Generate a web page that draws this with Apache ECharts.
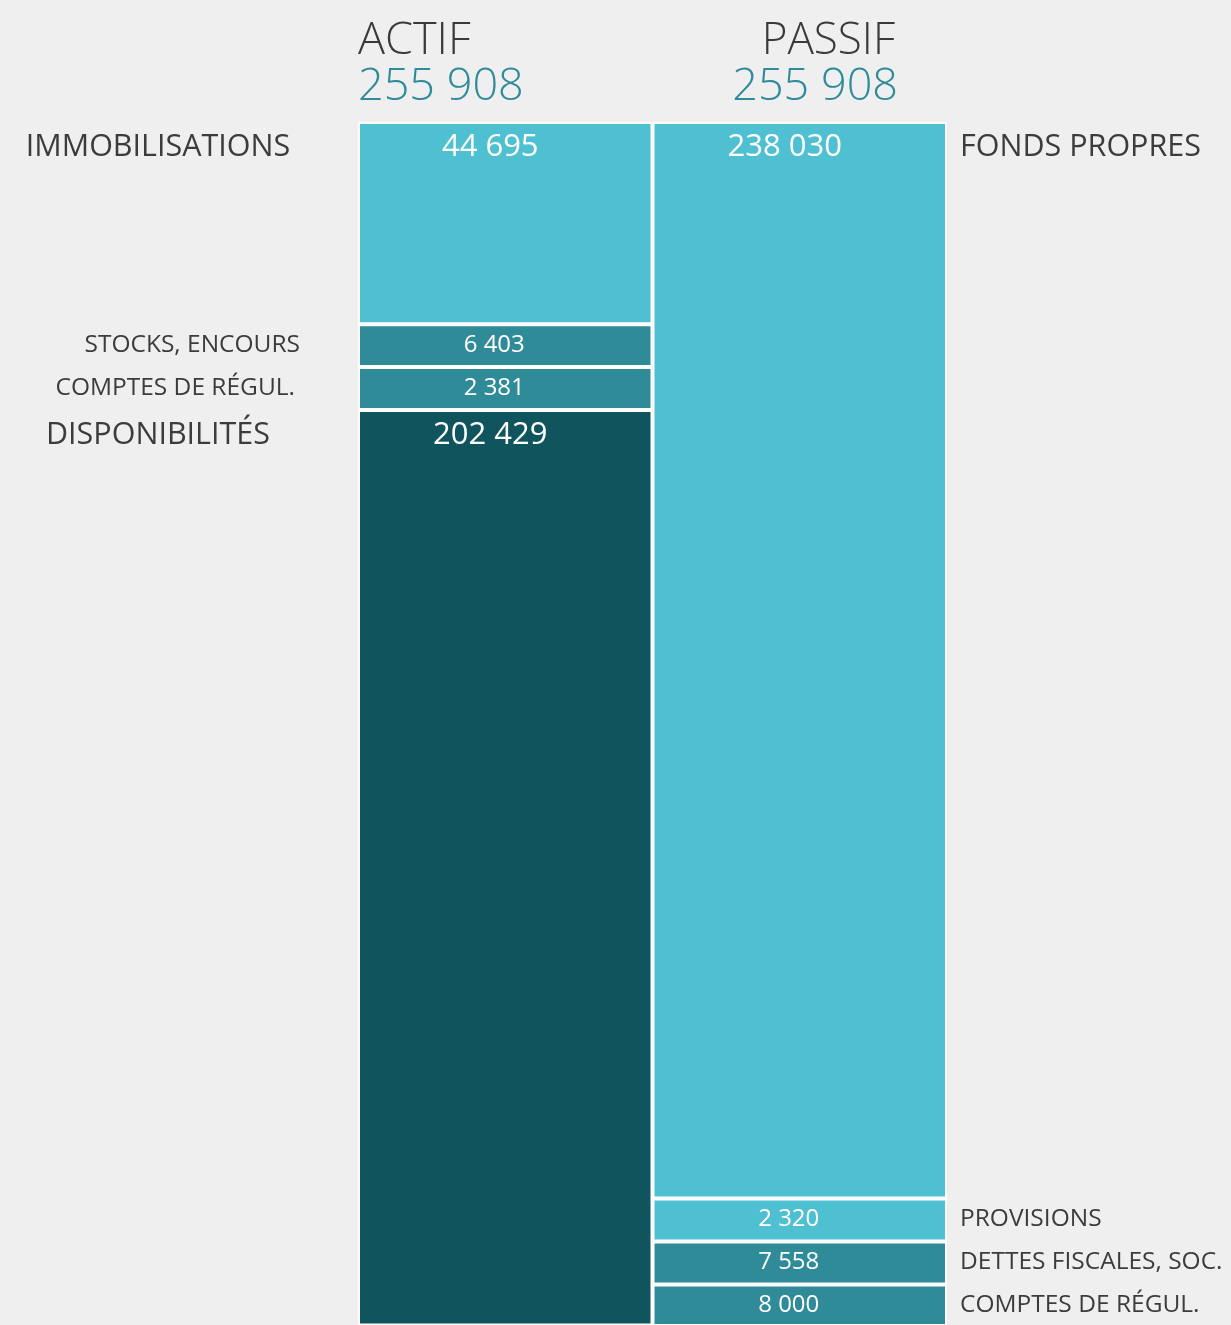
<!DOCTYPE html>
<html>
<head>
<meta charset="utf-8">
<title>Bilan</title>
<script src="https://cdn.jsdelivr.net/npm/echarts@6/dist/echarts.min.js"></script>
<style>
  html, body { margin: 0; padding: 0; background: #efefef; }
  #bilan { width: 1231px; height: 1325px; }
</style>
</head>
<body>
<div id="bilan"></div>
<script>
// colonnes
var columns = ['ACTIF', 'PASSIF'];

// postes de l'actif (haut -> bas)
var actifNames = ['IMMOBILISATIONS', 'STOCKS, ENCOURS', 'COMPTES DE RÉGUL.', 'DISPONIBILITÉS'];
var actifValues = [44695, 6403, 2381, 202429];

// postes du passif (haut -> bas)
var passifNames = ['FONDS PROPRES', 'PROVISIONS', 'DETTES FISCALES, SOC.', 'COMPTES DE RÉGUL.'];
var passifValues = [238030, 2320, 7558, 8000];

// hauteur minimale d'un bloc (les petits postes sont agrandis pour rester lisibles)
var MIN_SEG = 9500;

var light = '#4fc0d2', mid = '#308b99', dark = '#10555d';
var actifColors = [light, mid, mid, dark];
var passifColors = [light, light, mid, mid];

// placement des libellés de gauche
var leftAnchor = [
  { x: 158, align: 'center' },
  { x: 300, align: 'right' },
  { x: 295, align: 'right' },
  { x: 158, align: 'center' }
];

function fmt(v) {
  return String(v).replace(/\B(?=(\d{3})+(?!\d))/g, ' ');
}
function sum(a) {
  var s = 0;
  for (var i = 0; i < a.length; i++) s += a[i];
  return s;
}
function shown(v) {
  return Math.max(v, MIN_SEG);
}

var font = "'Open Sans', 'Noto Sans', sans-serif";

var series = [];
for (let i = 0; i < actifValues.length; i++) {
  let vals = [actifValues[i], passifValues[i]];
  let cols = [actifColors[i], passifColors[i]];
  let data = [];
  for (let j = 0; j < vals.length; j++) {
    let small = vals[j] < MIN_SEG;
    data.push({
      value: shown(vals[j]),
      itemStyle: { color: cols[j] },
      label: {
        fontSize: small ? 24 : 31,
        distance: small ? 9 : 10,
        offset: small ? [-11, 0] : [-15, 0]
      }
    });
  }
  series.push({
    name: 'poste' + i,
    type: 'bar',
    stack: 'bilan',
    barCategoryGap: '0%',
    data: data,
    itemStyle: { borderColor: '#ffffff', borderWidth: 2 },
    label: {
      show: true,
      position: 'insideTop',
      color: '#ffffff',
      fontFamily: font,
      formatter: function (p) {
        return fmt(p.dataIndex === 0 ? actifValues[i] : passifValues[i]);
      }
    },
    silent: true,
    animation: false
  });
}

var myChart = echarts.init(document.getElementById('bilan'));
var option = {
  backgroundColor: '#efefef',
  animation: false,
  grid: { left: 358, right: 284, top: 122, bottom: 0 },
  xAxis: {
    type: 'category',
    data: columns,
    show: false
  },
  yAxis: {
    type: 'value',
    inverse: true,
    min: 0,
    max: 266000,
    show: false
  },
  series: series
};
myChart.setOption(option);

// titres et libellés latéraux
var graphics = [
  { type: 'text', left: 358, top: 19,
    style: { text: columns[0], font: '300 45px ' + font, fill: '#3a3a3a' } },
  { type: 'text', left: 358, top: 65,
    style: { text: fmt(sum(actifValues)), font: '300 45px ' + font, fill: '#2f8b99' } },
  { type: 'text', right: 336, top: 19,
    style: { text: columns[1], font: '300 44px ' + font, fill: '#3a3a3a', align: 'right' } },
  { type: 'text', right: 333, top: 65,
    style: { text: fmt(sum(passifValues)), font: '300 45px ' + font, fill: '#2f8b99', align: 'right' } }
];

var acc = 0;
for (var i = 0; i < actifValues.length; i++) {
  var segTop = myChart.convertToPixel({ yAxisIndex: 0 }, acc);
  var small = actifValues[i] < MIN_SEG;
  graphics.push({
    type: 'text',
    x: leftAnchor[i].x,
    y: segTop + (small ? 21 : 25),
    style: {
      text: actifNames[i],
      font: (small ? 24.5 : 30.5) + 'px ' + font,
      fill: '#3c3c3c',
      align: leftAnchor[i].align,
      verticalAlign: 'middle'
    }
  });
  acc += shown(actifValues[i]);
}
acc = 0;
for (var k = 0; k < passifValues.length; k++) {
  var segTopP = myChart.convertToPixel({ yAxisIndex: 0 }, acc);
  var smallP = passifValues[k] < MIN_SEG;
  graphics.push({
    type: 'text',
    x: 960,
    y: segTopP + (smallP ? 21 : 25),
    style: {
      text: passifNames[k],
      font: (smallP ? 24.5 : 30.5) + 'px ' + font,
      fill: '#3c3c3c',
      align: 'left',
      verticalAlign: 'middle'
    }
  });
  acc += shown(passifValues[k]);
}
myChart.setOption({ graphic: graphics });
</script>
</body>
</html>
